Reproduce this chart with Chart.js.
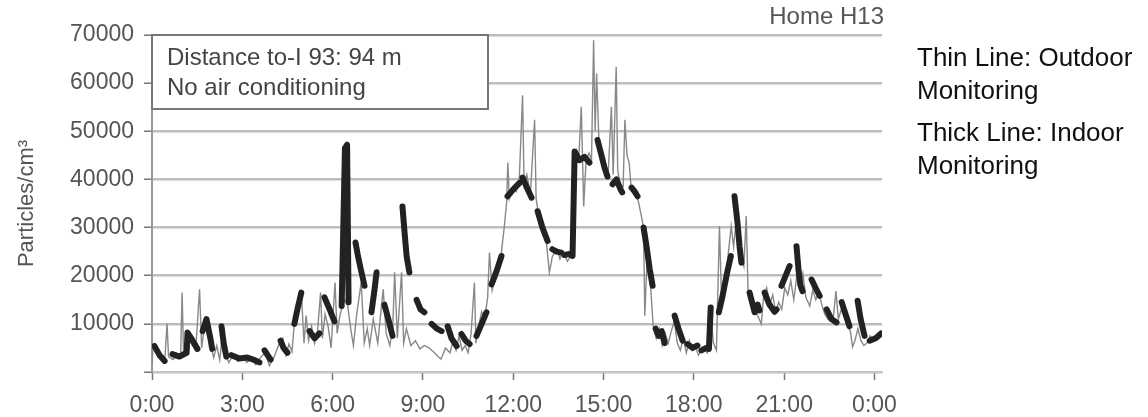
<!DOCTYPE html>
<html>
<head>
<meta charset="utf-8">
<script src="https://cdn.jsdelivr.net/npm/chart.js@4.4.1/dist/chart.umd.min.js"></script>
<style>
  body { margin: 0; background: #fff; }
  #wrap { position: relative; width: 1148px; height: 417px; }
  #chart { position: absolute; left: 0; top: 0; }
  .side-note {
    position: absolute; left: 917px;
    font: 26px "Liberation Sans", Arial, sans-serif;
    line-height: 33px; color: #111;
  }
</style>
</head>
<body>
<div id="wrap">
  <canvas id="chart" width="1148" height="417"></canvas>
  <div class="side-note" style="top:41px">Thin Line: Outdoor<br>Monitoring</div>
  <div class="side-note" style="top:116px">Thick Line: Indoor<br>Monitoring</div>
</div>
<script>
const FONT = '"Liberation Sans", Arial, sans-serif';

const xTickHours = [0, 3, 6, 9, 12, 15, 18, 21, 24];
const yTickValues = [0, 10000, 20000, 30000, 40000, 50000, 60000, 70000];

// indoor monitor: null = gap between logged pieces
const indoorHours = [
  0.08, 0.25, 0.42, 0.55,
  0.68, 0.91, 1.15, 1.18, 1.35, 1.51, 1.6,
  1.68, 1.81, 1.94, 2.0, 2.15,
  2.31, 2.38, 2.47, 2.55,
  2.64, 2.9, 3.17, 3.4, 3.57, 3.65,
  3.74, 3.84, 3.94, 4.1,
  4.27, 4.37, 4.5, 4.6,
  4.73, 4.83, 4.96, 5.1,
  5.23, 5.4, 5.56, 5.65,
  5.73, 5.9, 6.06, 6.2,
  6.3, 6.41, 6.48, 6.53, 6.65,
  6.76, 6.83, 6.93, 7.06, 7.18,
  7.29, 7.39, 7.46, 7.6,
  7.72, 7.85, 7.99, 8.15,
  8.32, 8.39, 8.46, 8.55, 8.65,
  8.79, 8.92, 9.05, 9.15,
  9.29, 9.46, 9.62, 9.72,
  9.82, 9.95, 10.12, 10.2,
  10.28, 10.42, 10.55, 10.65,
  10.78, 10.95, 11.11, 11.2,
  11.28, 11.45, 11.61, 11.7,
  11.81, 12.01, 12.21, 12.26,
  12.31, 12.44, 12.61, 12.7,
  12.81, 12.97, 13.14, 13.22,
  13.3, 13.44, 13.6, 13.65,
  13.7, 13.84, 13.97, 14.04, 14.2, 14.37, 14.53, 14.65,
  14.8, 14.93, 15.03, 15.13, 15.2,
  15.3, 15.43, 15.56, 15.62, 15.8,
  15.93, 16.03, 16.13, 16.23,
  16.33, 16.43, 16.53, 16.63, 16.68,
  16.73, 16.83, 16.88,
  16.93, 17.03, 17.2,
  17.36, 17.49, 17.63, 17.7,
  17.79, 17.96, 18.12, 18.18,
  18.25, 18.41, 18.5, 18.56, 18.7,
  18.83, 18.96, 19.1, 19.23, 19.29,
  19.35, 19.45, 19.52, 19.58, 19.7,
  19.85, 20.02, 20.12, 20.18, 20.26,
  20.35, 20.51, 20.68, 20.75, 20.83,
  20.91, 21.05, 21.18, 21.3,
  21.41, 21.48, 21.54, 21.61, 21.75,
  21.91, 22.04, 22.18, 22.3,
  22.41, 22.57, 22.74, 22.82,
  22.91, 23.04, 23.17, 23.3,
  23.44, 23.54, 23.67, 23.75,
  23.84, 24.04, 24.22
];
const indoorValues = [
  5400, 3500, 2300, null,
  3700, 3200, 4000, 8200, 6500, 4800, null,
  8500, 11000, 7000, 4800, null,
  9500, 6000, 3200, null,
  3500, 2800, 3000, 2500, 2000, null,
  4500, 3500, 2600, null,
  6500, 5000, 4000, null,
  10000, 13000, 16500, null,
  8500, 7000, 8000, null,
  15500, 13000, 10500, null,
  13700, 46500, 47200, 14500, null,
  26900, 24500, 21500, 17900, null,
  12400, 17000, 20700, null,
  14000, 11000, 7500, null,
  34400, 29000, 24000, 20700, null,
  15000, 13000, 12400, null,
  10000, 9000, 8500, null,
  9500, 7000, 5400, null,
  7900, 6500, 5800, null,
  7500, 10000, 12400, null,
  18200, 21000, 24100, null,
  36500, 38000, 39300, null,
  40400, 38500, 36200, null,
  33400, 30000, 27200, null,
  25500, 25000, 24800, null,
  24300, 24500, 24100, 45800, 44000, 44700, 43500, null,
  48200, 45000, 42500, 40600, null,
  39000, 40000, 38000, 37300, null,
  38300, 37500, 36500, null,
  30000, 26000, 21500, 17900, null,
  9000, 7500, null,
  8500, 6000, null,
  11700, 9000, 6500, null,
  5800, 5000, 5500, null,
  4500, 5000, 4800, 13400, null,
  12400, 16000, 20500, 24100, null,
  36500, 31000, 26000, 22700, null,
  16500, 12400, 14000, 12800, null,
  16500, 14000, 12500, 13000, null,
  17900, 20000, 22000, null,
  26100, 21000, 18000, 16800, null,
  19200, 17500, 15800, null,
  13000, 11000, 10300, null,
  14500, 12000, 9500, null,
  14800, 11000, 7500, null,
  6500, 7000, 8000
];

const outdoorHours = [
  0.00, 0.04, 0.15, 0.30, 0.42, 0.50, 0.55, 0.70, 0.85, 0.95,
  1.00, 1.05, 1.15, 1.30, 1.45, 1.58, 1.65, 1.75, 1.85, 1.95,
  2.05, 2.15, 2.25, 2.35, 2.45, 2.55, 2.70, 2.85, 3.00, 3.15,
  3.30, 3.45, 3.60, 3.75, 3.90, 4.05, 4.20, 4.35, 4.45, 4.55,
  4.65, 4.72, 4.85, 4.97, 5.05, 5.12, 5.20, 5.30, 5.40, 5.50,
  5.60, 5.66, 5.75, 5.85, 5.95, 6.08, 6.15, 6.25, 6.40, 6.50,
  6.60, 6.69, 6.80, 6.95, 7.05, 7.15, 7.23, 7.35, 7.50, 7.68,
  7.78, 7.90, 8.00, 8.06, 8.15, 8.29, 8.36, 8.45, 8.60, 8.75,
  8.90, 9.05, 9.20, 9.35, 9.50, 9.60, 9.75, 9.90, 10.00, 10.10,
  10.20, 10.30, 10.40, 10.50, 10.60, 10.71, 10.76, 10.85, 10.95, 11.05,
  11.15, 11.21, 11.30, 11.45, 11.60, 11.70, 11.78, 11.82, 11.87, 12.00,
  12.10, 12.20, 12.31, 12.36, 12.45, 12.57, 12.71, 12.76, 12.86, 13.00,
  13.10, 13.20, 13.30, 13.45, 13.55, 13.65, 13.80, 13.95, 14.02, 14.10,
  14.18, 14.26, 14.34, 14.42, 14.52, 14.60, 14.67, 14.72, 14.77, 14.85,
  14.95, 15.05, 15.15, 15.26, 15.32, 15.42, 15.47, 15.55, 15.65, 15.71,
  15.78, 15.85, 15.92, 16.02, 16.12, 16.22, 16.33, 16.37, 16.45, 16.55,
  16.65, 16.75, 16.85, 16.95, 17.05, 17.15, 17.25, 17.35, 17.45, 17.55,
  17.65, 17.75, 17.85, 17.95, 18.05, 18.15, 18.30, 18.45, 18.55, 18.65,
  18.75, 18.85, 18.92, 19.00, 19.10, 19.24, 19.32, 19.40, 19.50, 19.58,
  19.66, 19.74, 19.80, 19.90, 20.00, 20.10, 20.24, 20.32, 20.42, 20.52,
  20.62, 20.72, 20.82, 20.92, 21.02, 21.12, 21.22, 21.32, 21.42, 21.52,
  21.62, 21.72, 21.85, 21.95, 22.05, 22.15, 22.25, 22.35, 22.45, 22.52,
  22.62, 22.72, 22.80, 22.90, 23.00, 23.10, 23.20, 23.27, 23.35, 23.45,
  23.55, 23.65, 23.75, 23.85, 23.95, 24.08, 24.22
];
const outdoorValues = [
  1500, 5500, 4500, 3000, 2000, 10000, 3200, 2600, 3800, 3000,
  16500, 3500, 7500, 6000, 4500, 17200, 5000, 10000, 7500, 5500,
  3000, 5500, 2500, 8500, 3500, 2000, 3500, 2200, 3200, 2000,
  2800, 1500, 3000, 4000, 1300, 3000, 5500, 7000, 3500, 5800,
  4200, 9500, 13000, 15500, 6000, 11700, 6500, 9500, 6000, 8500,
  16500, 7000, 12000, 9500, 5000, 18600, 8000, 12000, 15000, 13800,
  9000, 5500, 12000, 18600, 6000, 9000, 5500, 11000, 6000, 17200,
  8000, 5500, 9500, 20700, 7000, 20700, 6000, 9000, 5500, 6500,
  4800, 5500, 5000, 4200, 3200, 2700, 5000, 4000, 6500, 4500,
  7500, 4500, 5500, 4000, 8000, 18600, 6000, 9500, 12500, 11000,
  15500, 24800, 17000, 21000, 24500, 30000, 35200, 43500, 36000, 38500,
  37500, 40000, 57500, 39000, 41000, 37000, 52400, 36000, 32000, 29000,
  27000, 20700, 24000, 25500, 23500, 25000, 23000, 24500, 43000, 46000,
  44500, 55100, 34400, 44000, 45500, 44000, 68900, 50000, 62000, 47000,
  45000, 42000, 40500, 55100, 41000, 63400, 42000, 39000, 38500, 52400,
  45000, 43500, 38000, 37500, 36500, 33500, 30000, 11700, 24000, 19000,
  9500, 7000, 9000, 5500, 8000, 6000, 8500, 10500, 6000, 4500,
  7000, 4000, 6500, 4500, 5500, 3500, 5000, 4000, 12500, 6000,
  4500, 30300, 15000, 17500, 22000, 30300, 26000, 31000, 27000, 24000,
  22000, 32400, 17000, 14000, 14500, 12000, 10000, 16000, 17500, 14000,
  16000, 12500, 14500, 13000, 17500, 16000, 19000, 15000, 20000, 17500,
  20500, 15500, 13700, 17000, 15000, 16500, 14000, 12000, 11000, 12500,
  10500, 16800, 11000, 13000, 11500, 9500, 8500, 5200, 6500, 9000,
  6500, 5500, 6000, 7500, 7000, 7500, 8500
];

const toPoints = (xs, ys) => xs.map((x, i) => ({ x: x, y: ys[i] }));

// title in the corner and the note box over the top left
const notesPlugin = {
  id: 'notes',
  afterDraw(chart) {
    const { ctx, chartArea } = chart;
    ctx.save();
    ctx.fillStyle = '#555';
    ctx.font = '24px ' + FONT;
    ctx.textAlign = 'right';
    ctx.textBaseline = 'alphabetic';
    ctx.fillText('Home H13', chartArea.right + 2, 24);

    const bx = chartArea.left, by = chartArea.top;
    ctx.fillStyle = '#fff';
    ctx.fillRect(bx, by, 336, 74);
    ctx.strokeStyle = '#777';
    ctx.lineWidth = 2;
    ctx.strokeRect(bx, by, 336, 74);
    ctx.fillStyle = '#444';
    ctx.textAlign = 'left';
    ctx.textBaseline = 'middle';
    ctx.fillText('Distance to-I 93: 94 m', bx + 15, by + 23);
    ctx.fillText('No air conditioning', bx + 15, by + 53);
    ctx.restore();
  }
};

new Chart(document.getElementById('chart'), {
  type: 'line',
  data: {
    datasets: [
      {
        label: 'Indoor',
        data: toPoints(indoorHours, indoorValues),
        borderColor: '#222',
        borderWidth: 6,
        borderCapStyle: 'round',
        borderJoinStyle: 'round',
        pointRadius: 0,
        spanGaps: false,
        order: 0
      },
      {
        label: 'Outdoor',
        data: toPoints(outdoorHours, outdoorValues),
        borderColor: '#888',
        borderWidth: 1.4,
        pointRadius: 0,
        order: 1
      }
    ]
  },
  options: {
    responsive: false,
    animation: false,
    layout: { padding: { left: 0, top: 35, right: 266, bottom: 0 } },
    plugins: {
      legend: { display: false },
      tooltip: { enabled: false }
    },
    scales: {
      x: {
        type: 'linear',
        min: 0,
        max: 24.25,
        afterFit: (s) => { s.height = 45; },
        afterBuildTicks: (s) => { s.ticks = xTickHours.map(v => ({ value: v })); },
        border: { color: '#c4c4c4', width: 2 },
        grid: { drawOnChartArea: false, tickLength: 8, tickColor: '#777', tickWidth: 1.5 },
        ticks: {
          padding: 12,
          color: '#555',
          font: { family: FONT, size: 23 },
          callback: (v) => (v % 24) + ':00'
        }
      },
      y: {
        min: 0,
        max: 70000,
        afterFit: (s) => { s.width = 152; },
        afterBuildTicks: (s) => { s.ticks = yTickValues.map(v => ({ value: v })); },
        border: { color: '#999', width: 2 },
        grid: { color: '#bdbdbd', lineWidth: 2.5, tickLength: 8, tickColor: '#777', tickWidth: 1.5 },
        ticks: {
          padding: 10,
          color: '#555',
          font: { family: FONT, size: 23 },
          callback: (v) => v === 0 ? '' : String(v)
        },
        title: {
          display: true,
          text: 'Particles/cm³',
          color: '#555',
          font: { family: FONT, size: 22 },
          padding: { top: 14, bottom: 0 }
        }
      }
    }
  },
  plugins: [notesPlugin]
});
</script>
</body>
</html>
